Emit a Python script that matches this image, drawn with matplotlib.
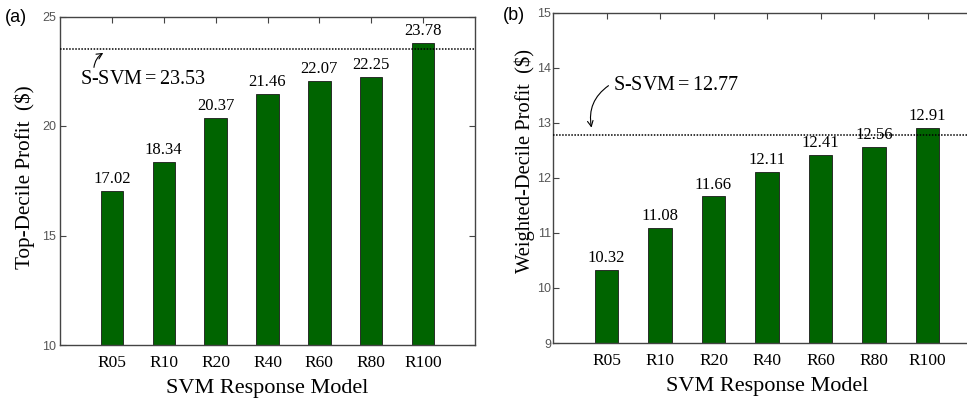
import matplotlib
matplotlib.use("Agg")
import matplotlib.pyplot as plt
import numpy as np

categories = ["R05", "R10", "R20", "R40", "R60", "R80", "R100"]
top_decile = [17.02, 18.34, 20.37, 21.46, 22.07, 22.25, 23.78]
weighted_decile = [10.32, 11.08, 11.66, 12.11, 12.41, 12.56, 12.91]
ssvm_top = 23.53
ssvm_weighted = 12.77

serif = ["Liberation Serif", "DejaVu Serif"]
sans = ["Liberation Sans", "DejaVu Sans"]
green = "#006400"
spine_c = "#444444"

fig = plt.figure(figsize=(9.67, 4.01), dpi=100)
ax1 = fig.add_axes([60/967, 1-345/401, 415/967, 328.5/401])
ax2 = fig.add_axes([553/967, 1-343/401, 428/967, 330.5/401])

x = np.arange(1, len(categories) + 1)

def style(ax, ylim, yticks, ylabel, vals, ref, ylfs):
    ax.bar(x, vals, width=0.43, color=green, edgecolor="#1a1a1a", linewidth=0.6, zorder=2)
    ax.set_xlim(0, 8)
    ax.set_ylim(*ylim)
    ax.set_yticks(yticks)
    ax.set_yticklabels([str(t) for t in yticks], fontfamily=sans, fontsize=9, color="#555555")
    ax.set_xticks(x)
    ax.set_xticklabels(categories, fontfamily=serif, fontsize=12.5)
    ax.tick_params(axis="both", direction="in", length=4, width=0.8, color=spine_c, top=True, right=True)
    ax.tick_params(axis="x", pad=7)
    ax.tick_params(axis="y", pad=3)
    for s in ax.spines.values():
        s.set_color(spine_c)
        s.set_linewidth(1.0)
    ax.set_xlabel("SVM Response Model", fontfamily=serif, fontsize=16, labelpad=6)
    ax.set_ylabel(ylabel, fontfamily=serif, fontsize=ylfs)
    ax.axhline(ref, color="black", linestyle=(0, (1, 1)), linewidth=1.1, zorder=3)
    off = (ylim[1] - ylim[0]) * 0.012
    for xi, v in zip(x, vals):
        ax.text(xi, v + off, f"{v:.2f}", ha="center", va="bottom", fontfamily=serif, fontsize=12, zorder=1)

style(ax1, (10, 25), [10, 15, 20, 25], "Top-Decile Profit  ($)", top_decile, ssvm_top, 15.2)
style(ax2, (9, 15), [9, 10, 11, 12, 13, 14, 15], "Weighted-Decile Profit  ($)", weighted_decile, ssvm_weighted, 14.8)
ax2.spines["right"].set_visible(False)
ax2.tick_params(axis="y", right=False, pad=1.5)
ax1.yaxis.set_label_coords(-0.06, 0.51)
ax2.yaxis.set_label_coords(-0.042, 0.55)

ax1.text(0.38, 22.12, f"S-SVM$\\,$=$\\,${ssvm_top:.2f}", ha="left", va="center", fontfamily=serif, fontsize=14.5)
ax1.annotate("", xy=(0.88, 23.4), xytext=(0.65, 22.55),
             arrowprops=dict(arrowstyle="->", color="black", lw=0.8, connectionstyle="arc3,rad=-0.3"))
ax2.text(1.12, 13.68, f"S-SVM$\\,$=$\\,${ssvm_weighted:.2f}", ha="left", va="center", fontfamily=serif, fontsize=14.5)
ax2.annotate("", xy=(0.73, 12.86), xytext=(1.08, 13.7),
             arrowprops=dict(arrowstyle="->", color="black", lw=0.8, connectionstyle="arc3,rad=0.35"))

fig.text(5/967, 1-17/401, "(a)", fontfamily=sans, fontsize=13, va="center", ha="left")
fig.text(503/967, 1-15/401, "(b)", fontfamily=sans, fontsize=13, va="center", ha="left")

fig.savefig("out.png", dpi=100)
